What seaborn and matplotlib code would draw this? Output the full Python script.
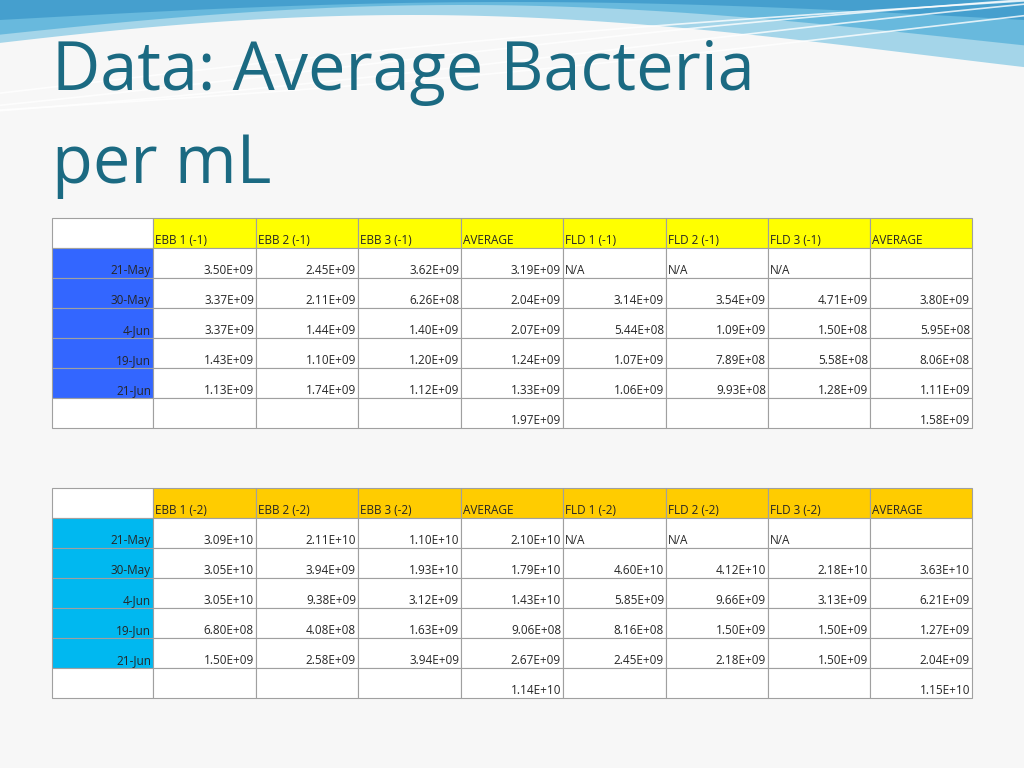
import numpy as np
import matplotlib
matplotlib.use("Agg")
import matplotlib.pyplot as plt
import seaborn as sns
from matplotlib.patches import Rectangle

sns.set_theme(style="white", font="Open Sans")

# table data
dates = ["21-May", "30-May", "4-Jun", "19-Jun", "21-Jun"]
headers1 = ["EBB 1 (-1)", "EBB 2 (-1)", "EBB 3 (-1)", "AVERAGE", "FLD 1 (-1)", "FLD 2 (-1)", "FLD 3 (-1)", "AVERAGE"]
rows1 = [
    ["3.50E+09", "2.45E+09", "3.62E+09", "3.19E+09", "N/A", "N/A", "N/A", ""],
    ["3.37E+09", "2.11E+09", "6.26E+08", "2.04E+09", "3.14E+09", "3.54E+09", "4.71E+09", "3.80E+09"],
    ["3.37E+09", "1.44E+09", "1.40E+09", "2.07E+09", "5.44E+08", "1.09E+09", "1.50E+08", "5.95E+08"],
    ["1.43E+09", "1.10E+09", "1.20E+09", "1.24E+09", "1.07E+09", "7.89E+08", "5.58E+08", "8.06E+08"],
    ["1.13E+09", "1.74E+09", "1.12E+09", "1.33E+09", "1.06E+09", "9.93E+08", "1.28E+09", "1.11E+09"],
]
totals1 = ["", "", "", "1.97E+09", "", "", "", "1.58E+09"]
headers2 = ["EBB 1 (-2)", "EBB 2 (-2)", "EBB 3 (-2)", "AVERAGE", "FLD 1 (-2)", "FLD 2 (-2)", "FLD 3 (-2)", "AVERAGE"]
rows2 = [
    ["3.09E+10", "2.11E+10", "1.10E+10", "2.10E+10", "N/A", "N/A", "N/A", ""],
    ["3.05E+10", "3.94E+09", "1.93E+10", "1.79E+10", "4.60E+10", "4.12E+10", "2.18E+10", "3.63E+10"],
    ["3.05E+10", "9.38E+09", "3.12E+09", "1.43E+10", "5.85E+09", "9.66E+09", "3.13E+09", "6.21E+09"],
    ["6.80E+08", "4.08E+08", "1.63E+09", "9.06E+08", "8.16E+08", "1.50E+09", "1.50E+09", "1.27E+09"],
    ["1.50E+09", "2.58E+09", "3.94E+09", "2.67E+09", "2.45E+09", "2.18E+09", "1.50E+09", "2.04E+09"],
]
totals2 = ["", "", "", "1.14E+10", "", "", "", "1.15E+10"]

fig = plt.figure(figsize=(10.24, 7.68), dpi=100)
fig.patch.set_facecolor("#F7F7F7")
ax = fig.add_axes([0, 0, 1, 1])
ax.set_xlim(0, 1024)
ax.set_ylim(768, 0)
ax.axis("off")

# decorative waves at top
x = np.linspace(0, 1024, 400)
ax.fill_between(x, 0, 55 - 40 * np.sin((x + 100) / 1024 * np.pi), color="#8FCDE6", alpha=0.8, lw=0)
ax.fill_between(x, 0, 40 - 35 * np.sin((x + 50) / 1024 * np.pi), color="#5AB3DA", alpha=0.8, lw=0)
ax.fill_between(x, 0, 20 - 18 * np.sin((x) / 1024 * np.pi), color="#2F8FC4", alpha=0.6, lw=0)
for k in range(4):
    ax.plot(x, 110 - 0.09 * x - 6 * k + 8 * np.sin(x / 300 + k), color="white", lw=1.2, alpha=0.8)

ax.text(52, 72, "Data: Average Bacteria", fontsize=48, color="#1B6A82", va="center", ha="left")
ax.text(52, 165, "per mL", fontsize=48, color="#1B6A82", va="center", ha="left")

col_x = [52, 153, 256, 358, 461, 563, 666, 768, 870, 972]
row_h = 30


def draw_table(top, headers, rows, totals, head_color, label_color):
    for r in range(7):
        y0 = top + r * row_h
        for c in range(9):
            x0, x1 = col_x[c], col_x[c + 1]
            fc = "white"
            if r == 0 and c > 0:
                fc = head_color
            elif 1 <= r <= 5 and c == 0:
                fc = label_color
            ax.add_patch(Rectangle((x0, y0), x1 - x0, row_h, facecolor=fc,
                                   edgecolor="#A0A0A0", lw=0.8))
            yt = y0 + row_h - 4
            if r == 0:
                if c > 0:
                    ax.text(x0 + 2, yt, headers[c - 1], fontsize=8.5, va="baseline", ha="left")
            elif r <= 5:
                if c == 0:
                    ax.text(x1 - 2, yt, dates[r - 1], fontsize=8.5, va="baseline", ha="right")
                else:
                    v = rows[r - 1][c - 1]
                    if v == "N/A":
                        ax.text(x0 + 2, yt, v, fontsize=8.5, va="baseline", ha="left")
                    else:
                        ax.text(x1 - 2, yt, v, fontsize=8.5, va="baseline", ha="right")
            elif c > 0:
                ax.text(x1 - 2, yt, totals[c - 1], fontsize=8.5, va="baseline", ha="right")


draw_table(218, headers1, rows1, totals1, "#FFFF00", "#3366FF")
draw_table(488, headers2, rows2, totals2, "#FFCC00", "#00B8F0")

fig.savefig("out.png", dpi=100)
